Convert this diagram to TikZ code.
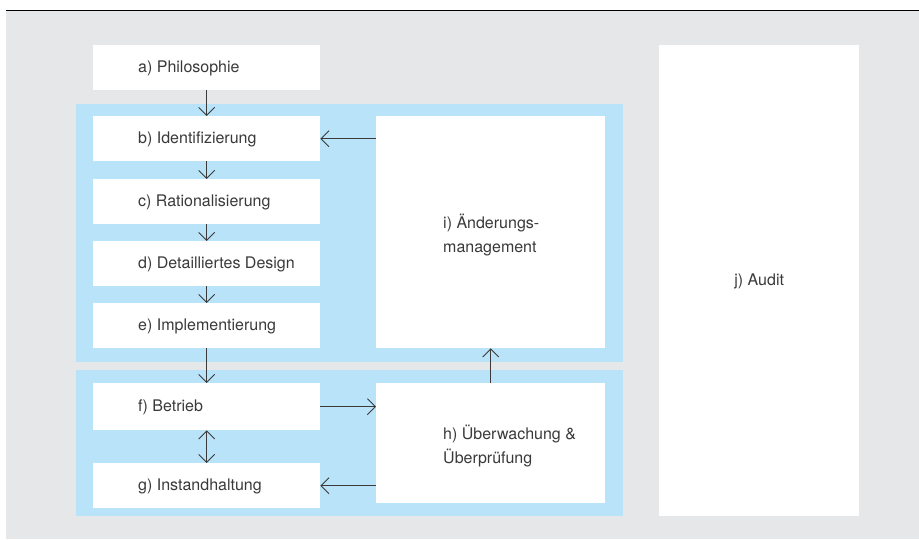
\documentclass[tikz,border=0pt]{standalone}
\usepackage{fontspec}
\setmainfont{TeX Gyre Heros}
\usetikzlibrary{arrows.meta}
\definecolor{bggray}{HTML}{E6E7E8}
\definecolor{panelblue}{HTML}{B9E3F8}
\definecolor{ink}{HTML}{3A3A3A}
\begin{document}
\begin{tikzpicture}[x=1pt,y=-1pt,
  panel/.style={fill=panelblue, inner sep=0, anchor=north west, draw=none},
  box/.style={fill=white, inner sep=0, anchor=north west, draw=none, minimum width=227pt, minimum height=45pt},
  lbl/.style={anchor=west, inner sep=0, text=ink, font=\fontsize{16}{24}\selectfont, align=left},
  clbl/.style={anchor=center, inner sep=0, text=ink, font=\fontsize{16}{24}\selectfont, align=left},
  conn/.style={draw=ink, line width=0.9pt, -{Straight Barb[length=8pt,width=16pt]}},
  conn2/.style={draw=ink, line width=0.9pt, {Straight Barb[length=8pt,width=16pt]}-{Straight Barb[length=8pt,width=16pt]}}
]
\useasboundingbox (0,0) rectangle (919,539);
\fill[white] (0,0) rectangle (919,539);
\fill[bggray] (6,11) rectangle (919,539);
\draw[black, line width=1.3pt] (6,10.5) -- (919,10.5);

% panels
\node[panel, minimum width=547pt, minimum height=258pt] (p1) at (76,104) {};
\node[panel, minimum width=547pt, minimum height=146pt] (p2) at (76,370) {};

% left column
\node[box] (a) at (93,45) {};
\node[lbl] (at) at (138,68) {a) Philosophie};
\node[box] (b) at (93,116) {};
\node[lbl] (bt) at (138,139) {b) Identifizierung};
\node[box] (c) at (93,179) {};
\node[lbl] (ct) at (138,202) {c) Rationalisierung};
\node[box] (d) at (93,241) {};
\node[lbl] (dt) at (138,264) {d) Detailliertes Design};
\node[box] (e) at (93,303) {};
\node[lbl] (et) at (138,326) {e) Implementierung};
\node[box, minimum height=47pt] (f) at (93,383) {};
\node[lbl] (ft) at (138,407) {f) Betrieb};
\node[box] (g) at (93,463) {};
\node[lbl] (gt) at (138,486) {g) Instandhaltung};

% right column
\node[box, minimum width=229pt, minimum height=232pt] (i) at (376,116) {};
\node[lbl] (it) at (443,235) {i) Änderungs-\\management};
\node[box, minimum width=229pt, minimum height=120pt] (h) at (376,383) {};
\node[lbl] (ht) at (443,446) {h) Überwachung \&\\Überprüfung};
\node[box, minimum width=200pt, minimum height=471pt] (j) at (659,45) {};
\node[clbl] (jt) at ([yshift=-0.5pt]j.center) {j) Audit};

% connectors
\draw[conn] (a.south) -- (b.north);
\draw[conn] (b.south) -- (c.north);
\draw[conn] (c.south) -- (d.north);
\draw[conn] (d.south) -- (e.north);
\draw[conn] (e.south) -- (f.north);
\draw[conn2] (f.south) -- (g.north);
\draw[conn] (b.east -| i.west) -- (b.east);
\draw[conn] (f.east) -- (f.east -| h.west);
\draw[conn] (g.east -| h.west) -- (g.east);
\draw[conn] (h.north) -- (i.south);
\end{tikzpicture}
\end{document}
